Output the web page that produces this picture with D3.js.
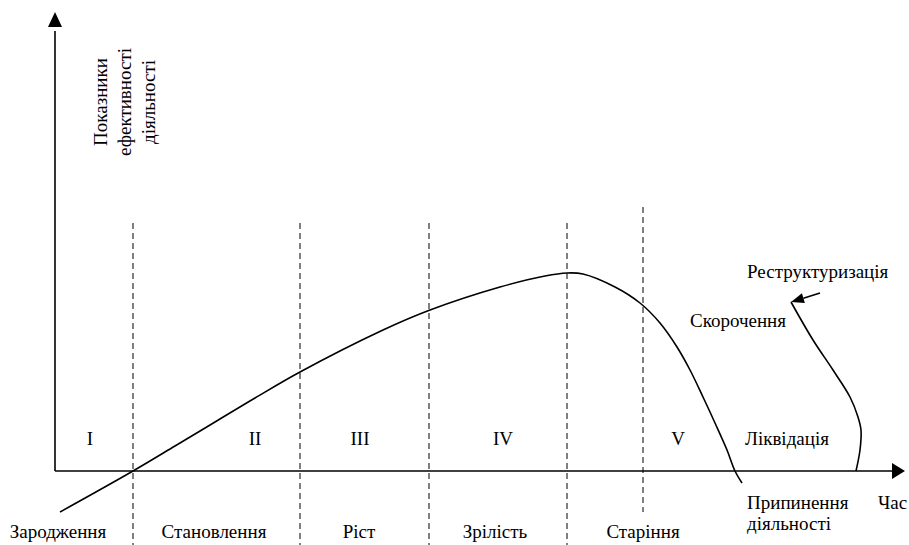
<!DOCTYPE html>
<html>
<head>
<meta charset="utf-8">
<script src="https://cdn.jsdelivr.net/npm/d3@7"></script>
<style>
  body { margin: 0; background: #fff; }
  svg text { font-family: "Liberation Serif", "Times New Roman", serif; font-size: 19px; fill: #000; }
</style>
</head>
<body>
<svg id="chart" width="909" height="545"></svg>
<script>
// units: x = time offset from the origin, y = performance level above the time axis
const stageBounds = [78, 245, 374, 512, 588];
const stageNames = ["Зародження", "Становлення", "Ріст", "Зрілість", "Старіння"];
const stageNameX = [3, 159, 304, 440, 588];
const romanLabels = ["I", "II", "III", "IV", "V"];
const romanX = [35, 200, 305, 448, 623];

// life-cycle curve
const lifeX = [5, 78, 120, 160, 200, 245, 328, 375, 445, 490, 512, 528, 560, 585, 605, 622, 635, 648, 660, 672, 680, 687];
const lifeY = [-41, 0, 25, 49, 73, 99, 141, 161, 184, 195, 198, 197, 184, 168, 148, 124, 101, 74, 48, 21, 0, -12];

// restructuring branch (from liquidation back up)
const restX = [801, 805, 806, 803, 795, 778, 758, 736];
const restY = [0, 21, 41, 54, 74, 101, 131, 169];
const restArrowFrom = [765, 178];

const svg = d3.select("#chart");
const x = d3.scaleLinear().domain([0, 850]).range([55, 905]);
const y = d3.scaleLinear().domain([0, 460]).range([471, 11]);

// dashed stage borders
svg.selectAll(".stage-line")
  .data(stageBounds)
  .enter()
  .append("line")
  .attr("class", "stage-line")
  .attr("x1", d => x(d))
  .attr("x2", d => x(d))
  .attr("y1", (d, i) => i === 4 ? 207 : 223)
  .attr("y2", (d, i) => i === 4 ? 512 : 545)
  .attr("stroke", "#000")
  .attr("stroke-width", 1)
  .attr("stroke-dasharray", "6,4");

// axes
svg.append("line")
  .attr("x1", x(0)).attr("x2", x(0))
  .attr("y1", y(0)).attr("y2", y(440))
  .attr("stroke", "#000").attr("stroke-width", 1.6);
svg.append("path")
  .attr("d", `M${x(0)},${y(459)} L${x(0) - 7},${y(444)} L${x(0) + 7},${y(444)} Z`)
  .attr("fill", "#000");

svg.append("line")
  .attr("x1", x(0)).attr("x2", x(840))
  .attr("y1", y(0)).attr("y2", y(0))
  .attr("stroke", "#000").attr("stroke-width", 1.6);
svg.append("path")
  .attr("d", `M${x(850)},${y(0)} L${x(837)},${y(0) - 8} L${x(837)},${y(0) + 8} Z`)
  .attr("fill", "#000");

// curves
const line = d3.line()
  .x(d => x(d[0]))
  .y(d => y(d[1]))
  .curve(d3.curveCatmullRom.alpha(0.5));

svg.append("path")
  .datum(d3.zip(lifeX, lifeY))
  .attr("d", line)
  .attr("fill", "none")
  .attr("stroke", "#000")
  .attr("stroke-width", 1.6);

svg.append("path")
  .datum(d3.zip(restX, restY))
  .attr("d", line)
  .attr("fill", "none")
  .attr("stroke", "#000")
  .attr("stroke-width", 1.6);

// small arrow to the restructuring point
const tip = [x(restX[restX.length - 1]), y(restY[restY.length - 1])];
const from = [x(restArrowFrom[0]), y(restArrowFrom[1])];
const ang = Math.atan2(from[1] - tip[1], from[0] - tip[0]);
const hl = 13, hw = 5;
const bx = tip[0] + hl * Math.cos(ang), by = tip[1] + hl * Math.sin(ang);
svg.append("line")
  .attr("x1", from[0]).attr("y1", from[1])
  .attr("x2", bx).attr("y2", by)
  .attr("stroke", "#000").attr("stroke-width", 1.6);
svg.append("path")
  .attr("d", `M${tip[0]},${tip[1]} L${bx - hw * Math.sin(ang)},${by + hw * Math.cos(ang)} L${bx + hw * Math.sin(ang)},${by - hw * Math.cos(ang)} Z`)
  .attr("fill", "#000");

// stage names under the axis
svg.selectAll(".stage-name")
  .data(stageNames)
  .enter()
  .append("text")
  .attr("class", "stage-name")
  .attr("x", (d, i) => x(stageNameX[i]))
  .attr("y", 538)
  .attr("text-anchor", "middle")
  .text(d => d);

// roman numerals
svg.selectAll(".roman")
  .data(romanLabels)
  .enter()
  .append("text")
  .attr("class", "roman")
  .attr("x", (d, i) => x(romanX[i]))
  .attr("y", 445)
  .attr("text-anchor", "middle")
  .text(d => d);

// other labels
svg.append("text").attr("x", x(690)).attr("y", 445).text("Ліквідація");
svg.append("text").attr("x", x(692)).attr("y", 509).text("Припинення");
svg.append("text").attr("x", x(692)).attr("y", 530).text("діяльності");
svg.append("text").attr("x", x(823)).attr("y", 509).text("Час");
svg.append("text").attr("x", x(635)).attr("y", 327).text("Скорочення");
svg.append("text").attr("x", x(692)).attr("y", 278).text("Реструктуризація");

// vertical axis title
const yTitle = ["Показники", "ефективності", "діяльності"];
svg.selectAll(".ytitle")
  .data(yTitle)
  .enter()
  .append("text")
  .attr("class", "ytitle")
  .attr("transform", (d, i) => `translate(${107 + i * 24},102) rotate(-90)`)
  .attr("text-anchor", "middle")
  .text(d => d);
</script>
</body>
</html>
